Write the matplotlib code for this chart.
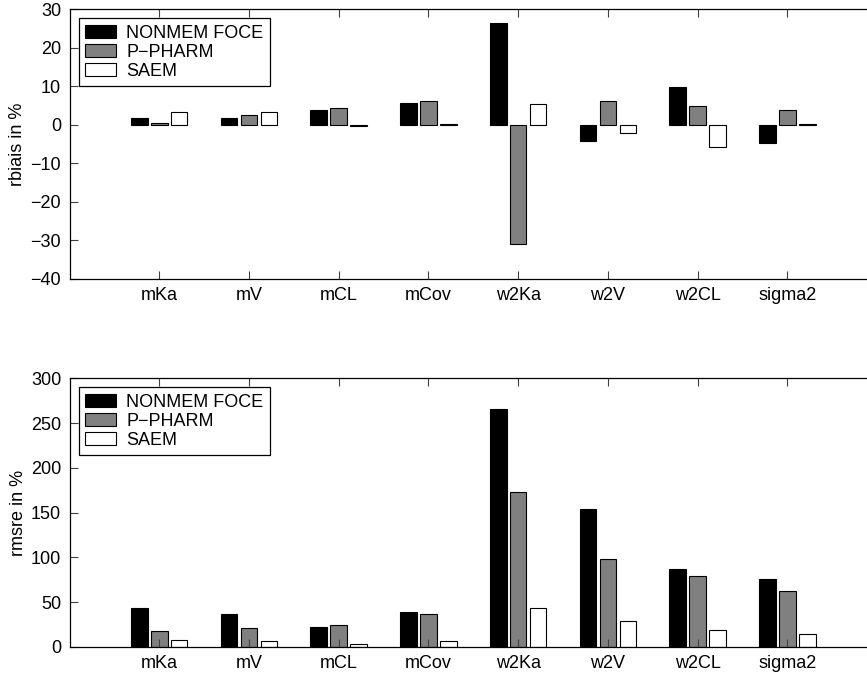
import numpy as np
import matplotlib.pyplot as plt
from matplotlib.transforms import ScaledTranslation

params = ["mKa", "mV", "mCL", "mCov", "w2Ka", "w2V", "w2CL", "sigma2"]
methods = ["NONMEM FOCE", "P\u2212PHARM", "SAEM"]

# relative bias (%)
rbias_foce = [1.8, 1.7, 3.9, 5.7, 26.4, -4.1, 9.8, -4.7]
rbias_pph = [0.4, 2.6, 4.25, 6.2, -31.0, 6.1, 4.9, 3.8]
rbias_saem = [3.4, 3.4, -0.4, 0.25, 5.5, -2.2, -5.9, 0.3]

# relative RMSE (%)
rmsre_foce = [43.6, 36.5, 22.4, 38.4, 265.7, 153.6, 86.5, 75.3]
rmsre_pph = [17.5, 20.9, 23.9, 36.5, 172.9, 98.0, 79.4, 61.9]
rmsre_saem = [7.1, 6.4, 3.4, 6.0, 42.9, 28.7, 18.3, 14.5]

colors = ["black", "#808080", "white"]
FS = 13

plt.rcParams["font.family"] = ["Liberation Sans", "DejaVu Sans"]
plt.rcParams["font.size"] = FS

fig = plt.figure(figsize=(8.67, 6.76), dpi=100)
ax1 = fig.add_axes([0.0802, 0.588, 0.9314, 0.398])
ax2 = fig.add_axes([0.0802, 0.0433, 0.9314, 0.397])

x = np.arange(1, len(params) + 1)
off = 0.222
w = 0.185


def grouped(ax, series, ylabel, ylim, yticks):
    for k, vals in enumerate(series):
        ax.bar(x + (k - 1) * off, vals, w, color=colors[k],
               edgecolor="black", linewidth=0.8, label=methods[k])
    ax.set_xlim(0, 9)
    ax.set_ylim(*ylim)
    ax.set_yticks(yticks)
    ax.set_xticks(x)
    ax.set_xticklabels(params)
    # category names sit a little right of their ticks
    shift = ScaledTranslation(13 / 100, 0, fig.dpi_scale_trans)
    for lab in ax.get_xticklabels():
        lab.set_transform(lab.get_transform() + shift)
    ax.tick_params(direction="in", length=6, width=0.8, color="#404040",
                   top=True, right=True, pad=6, labelsize=FS)
    for s in ax.spines.values():
        s.set_linewidth(0.9)
    ax.set_ylabel(ylabel, fontsize=FS, labelpad=3)
    leg = ax.legend(loc="upper left", fancybox=False, framealpha=1,
                    edgecolor="black", fontsize=FS, handlelength=1.7,
                    handleheight=0.72, handletextpad=0.6, labelspacing=0.12,
                    borderpad=0.35, borderaxespad=0.5)
    leg.get_frame().set_linewidth(0.9)


grouped(ax1, [rbias_foce, rbias_pph, rbias_saem], "rbiais in %",
        (-40, 30), np.arange(-40, 31, 10))
grouped(ax2, [rmsre_foce, rmsre_pph, rmsre_saem], "rmsre in %",
        (0, 300), np.arange(0, 301, 50))

fig.savefig("out.png", dpi=100, facecolor="white")
